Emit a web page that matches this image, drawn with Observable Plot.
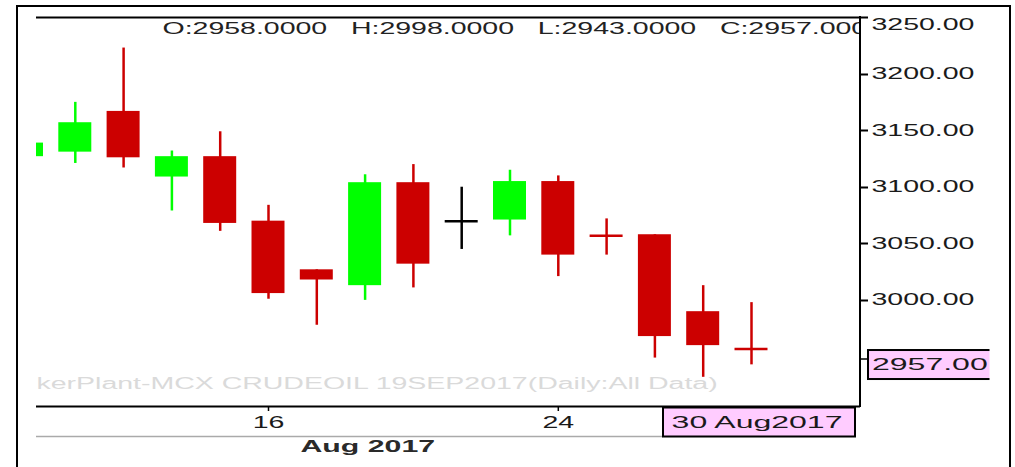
<!DOCTYPE html>
<html>
<head>
<meta charset="utf-8">
<script src="https://cdn.jsdelivr.net/npm/d3@7"></script>
<script src="https://cdn.jsdelivr.net/npm/@observablehq/plot@0.6"></script>
<style>
  html, body { margin: 0; padding: 0; background: #fff; }
  #chart svg { display: block; }
</style>
</head>
<body>
<div id="chart"></div>
<script>
// ---- data ----
const dates  = ["2017-08-09","2017-08-10","2017-08-11","2017-08-14","2017-08-15","2017-08-16","2017-08-17","2017-08-18","2017-08-21","2017-08-22","2017-08-23","2017-08-24","2017-08-25","2017-08-28","2017-08-29","2017-08-30"];
const opens  = [3127, 3131, 3167, 3109, 3127, 3070, 3027, 3013, 3104, 3070, 3071, 3105, 3058, 3058, 2990, 2958];
const highs  = [3142, 3175, 3223, 3132, 3149, 3084, 3027, 3111, 3120, 3100, 3115, 3110, 3072, 3058, 3013, 2998];
const lows   = [3124, 3121, 3117, 3079, 3061, 3001, 2978, 3000, 3011, 3045, 3057, 3021, 3040, 2949, 2932, 2943];
const closes = [3139, 3157, 3126, 3127, 3068, 3006, 3018, 3104, 3032, 3070, 3105, 3040, 3057, 2968, 2960, 2957];
const yTicks = [3000, 3050, 3100, 3150, 3200, 3250];
const xTickDates = ["2017-08-16", "2017-08-24"];
const symbolText = "kerPlant-MCX CRUDEOIL 19SEP2017(Daily:All Data)";
const monthLabel = "Aug 2017";

const data = dates.map((d, i) => ({date: d, open: opens[i], high: highs[i], low: lows[i], close: closes[i]}));
const colorOf = d => d.close > d.open ? "#00ff00" : d.close < d.open ? "#cc0000" : "#000000";
const bodies = data.filter(d => Math.abs(d.close - d.open) >= 3);
const dojis = data.filter(d => Math.abs(d.close - d.open) < 3);
const last = data[data.length - 1];
const header = `O:${last.open.toFixed(4)}\u00a0\u00a0\u00a0H:${last.high.toFixed(4)}\u00a0\u00a0\u00a0L:${last.low.toFixed(4)}\u00a0\u00a0\u00a0C:${last.close.toFixed(4)}`;

const W = 1015, H = 467;
const yMin = 2906.2, yMax = 3250;
const chart = Plot.plot({
  width: W, height: H,
  marginLeft: 36, marginRight: 155, marginTop: 17, marginBottom: 61,
  style: {fontFamily: "'Liberation Sans', Arial, sans-serif", fontSize: "16px", color: "#1a1a1a", background: "#fff", overflow: "visible"},
  x: {type: "band", domain: dates, range: [2.35, 775.15], paddingInner: 0.317, paddingOuter: 0.1585, align: 0.5, round: false, axis: null, label: null},
  y: {domain: [yMin, yMax], range: [406, 17], axis: null, label: null},
  color: {type: "identity"},
  marks: [
    Plot.text([symbolText], {frameAnchor: "bottom-left", text: d => d, lineAnchor: "middle", textAnchor: "start", dy: -23, fill: "#dadada", fontSize: 16}),
    Plot.ruleX(data, {x: "date", y1: "low", y2: "high", stroke: colorOf, strokeWidth: 2.5, clip: true}),
    Plot.barY(bodies, {x: "date", y1: "open", y2: "close", fill: colorOf, clip: true}),
    Plot.tickY(dojis, {x: "date", y: "close", stroke: colorOf, strokeWidth: 2.5, clip: true}),
    Plot.text([header], {frameAnchor: "top-left", text: d => d, lineAnchor: "middle", textAnchor: "start", dx: 126, dy: 11, fill: "#222", clip: true}),
    Plot.ruleY([yMax], {stroke: "#000", strokeWidth: 2}),
    Plot.ruleY([yMin], {stroke: "#000", strokeWidth: 2}),
    Plot.axisY({anchor: "right", ticks: yTicks, tickFormat: d => d === 3250 ? "" : d.toFixed(2), tickSize: 0, tickPadding: 11, fill: "#1a1a1a", label: null}),
    Plot.axisY({anchor: "right", ticks: [3250], tickFormat: d => d.toFixed(2), tickSize: 0, tickPadding: 11, dy: 7, fill: "#1a1a1a", label: null}),
    Plot.axisX({anchor: "bottom", ticks: xTickDates, tickFormat: d => String(+d.slice(8)), tickSize: 5, tickPadding: 5, strokeWidth: 1.5, stroke: "#000", fill: "#1a1a1a", label: null}),
    Plot.text([monthLabel], {frameAnchor: "bottom-left", text: d => d, lineAnchor: "middle", textAnchor: "start", dx: 264, dy: 40, fontWeight: "bold", fontSize: 17, fill: "#2a2a2a"})
  ]
});
document.getElementById("chart").appendChild(chart);

// stretch text horizontally to match the reference's wide lettering
const K = 1.78;
chart.querySelectorAll("text").forEach(t => {
  const w = t.getComputedTextLength();
  if (w > 0) { t.setAttribute("textLength", w * K); t.setAttribute("lengthAdjust", "spacingAndGlyphs"); }
});

const svg = d3.select(chart);
const xs = chart.scale("x"), ys = chart.scale("y");
const xc = xs.apply(last.date) + xs.bandwidth / 2;
const yc = ys.apply(last.close);
const xRight = W - 155;

// right price-axis ticks and line (positions from the y scale)
const tickPath = yTicks.map(v => {
  const yy = Math.round(ys.apply(v)) + 0.5;
  return `M${xRight},${yy}H${xRight + 8}`;
}).join("");
svg.append("path").attr("d", tickPath).attr("fill", "none").attr("stroke", "#000").attr("stroke-width", 2);
svg.append("path").attr("d", `M${xRight},${ys.apply(yMax) - 1}V${ys.apply(yMin) + 1}`).attr("fill", "none").attr("stroke", "#000").attr("stroke-width", 2);

// outer border
svg.append("path").attr("d", `M17,${H} V6 H1010 V${H}`).attr("fill", "none").attr("stroke", "#000").attr("stroke-width", 2);

// grey line below the date labels
svg.append("path").attr("d", `M36,436.5H${xc - 88}`).attr("stroke", "#aaa").attr("stroke-width", 1.5);

// clip for the price label
svg.append("defs").append("clipPath").attr("id", "pclip").append("rect").attr("x", 860).attr("y", 0).attr("width", 129.5).attr("height", H);

// price label box
const pg = svg.append("g").attr("clip-path", "url(#pclip)");
pg.append("rect").attr("x", 868).attr("y", yc + 1.5).attr("width", 140).attr("height", 29).attr("fill", "#ffccff").attr("stroke", "#000").attr("stroke-width", 2);
pg.append("path").attr("d", `M${xRight},${yc + 10.5}H868`).attr("stroke", "#000").attr("stroke-width", 1.5);
const pt = pg.append("text").attr("x", 872).attr("y", yc + 16).attr("dy", "0.35em").attr("text-anchor", "start").attr("fill", "#1a1a1a").attr("font-size", 16).text(closes[closes.length - 1].toFixed(2));

// date label box
const dg = svg.append("g");
dg.append("rect").attr("x", xc - 88).attr("y", 407.5).attr("width", 192).attr("height", 29).attr("fill", "#ffccff").attr("stroke", "#000").attr("stroke-width", 2);
const dt = dg.append("text").attr("x", xc + 6).attr("y", 422).attr("dy", "0.35em").attr("text-anchor", "middle").attr("fill", "#1a1a1a").attr("font-size", 16).text(d3.utcFormat("%d %b%Y")(new Date(last.date)));

[pt.node(), dt.node()].forEach(t => {
  const w = t.getComputedTextLength();
  t.setAttribute("textLength", w * 2.0); t.setAttribute("lengthAdjust", "spacingAndGlyphs");
});
</script>
</body>
</html>
